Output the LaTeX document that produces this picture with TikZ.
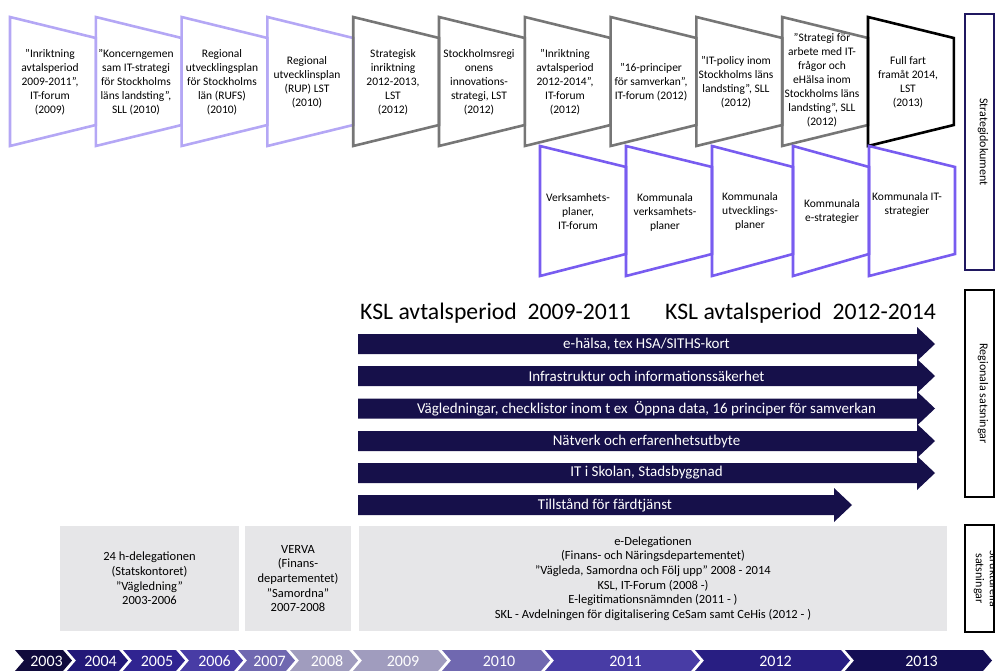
\documentclass[tikz,border=0pt]{standalone}
\usepackage{fontspec}
\setmainfont{Carlito}
\usepackage{xcolor}
\usepackage{tikz}
\usetikzlibrary{positioning,calc}

\definecolor{ljuslila}{RGB}{180,167,245}
\definecolor{gra}{RGB}{118,118,118}
\definecolor{lila}{RGB}{120,92,240}
\definecolor{marin}{RGB}{32,24,96}
\definecolor{stapelfarg}{RGB}{22,16,74}
\definecolor{ljusgra}{RGB}{230,230,232}
\definecolor{ar03}{RGB}{16,10,60}
\definecolor{ar04}{RGB}{34,24,120}
\definecolor{ar05}{RGB}{48,36,145}
\definecolor{ar06}{RGB}{72,60,165}
\definecolor{ar07}{RGB}{112,104,176}
\definecolor{ar08}{RGB}{160,156,190}
\definecolor{ar12}{RGB}{40,30,130}
\definecolor{ar13}{RGB}{20,14,84}

% pil for en regional satsning: namn, y, spets, text
\newcommand{\satsning}[4]{%
  \fill[stapelfarg] (358,#2-10) -- (#3-18,#2-10) -- (#3-18,#2-17) -- (#3,#2)
    -- (#3-18,#2+17) -- (#3-18,#2+10) -- (358,#2+10) -- cycle;
  \node[stapeltext] (#1) at ({(358+#3)/2},#2) {#4};}

% arspil i tidslinjen: namn, start, spets, farg, ar
\newcommand{\arspil}[5]{%
  \fill[#4] (#2,650) -- (#3-9,650) -- (#3,660.5) -- (#3-9,671) -- (#2,671)
    -- (#2+9,660.5) -- cycle;
  \node[artext] (#1) at ({(#2+#3)/2+3},661) {#5};}

\begin{document}
\begin{tikzpicture}[
    x=1pt, y=-1pt,
    every node/.style = {align=center, inner sep=0pt},
    dok/.style = {line width=2.6pt, line join=miter},
    doktext/.style = {font=\fontsize{11.5}{14}\selectfont},
    stapeltext/.style = {text=white, font=\fontsize{15}{17}\selectfont},
    ruta/.style = {fill=ljusgra, font=\fontsize{12.5}{14.6}\selectfont},
    etikett/.style = {draw, line width=1.6pt, minimum width=29},
    etikettext/.style = {rotate=-90, font=\fontsize{12}{14}\selectfont},
    artext/.style = {text=white, font=\fontsize{16}{18}\selectfont}
  ]
  \useasboundingbox (0,0) rectangle (995,671);

  % strategidokument, ovre raden
  \foreach \i/\f in {0/ljuslila,1/ljuslila,2/ljuslila,3/ljuslila,4/gra,5/gra,6/gra,7/gra,8/gra,9/gra,10/black}
    \draw[dok,\f] ({10+85.8*\i},17) -- ({95.8+85.8*\i},38) -- ({95.8+85.8*\i},125)
      -- ({10+85.8*\i},146) -- cycle;

  \node[doktext] (d1) at (50,82) {”Inriktning\\avtalsperiod\\2009-2011”,\\IT-forum\\(2009)};
  \node[doktext] (d2) at (136,82) {”Koncerngemen\\sam IT-strategi\\för Stockholms\\läns landsting”,\\SLL (2010)};
  \node[doktext] (d3) at (222,82) {Regional\\utvecklingsplan\\för Stockholms\\län (RUFS)\\(2010)};
  \node[doktext] (d4) at (307,82) {Regional\\utvecklinsplan\\(RUP) LST\\(2010)};
  \node[doktext] (d5) at (393,82) {Strategisk\\inriktning\\2012-2013,\\LST\\(2012)};
  \node[doktext] (d6) at (479,82) {Stockholmsregi\\onens\\innovations-\\strategi, LST\\(2012)};
  \node[doktext] (d7) at (565,82) {”Inriktning\\avtalsperiod\\2012-2014”,\\IT-forum\\(2012)};
  \node[doktext] (d8) at (651,82) {”16-principer\\för samverkan”,\\IT-forum (2012)};
  \node[doktext] (d9) at (736,82) {”IT-policy inom\\Stockholms läns\\landsting”, SLL\\(2012)};
  \node[doktext] (d10) at (822,80) {”Strategi för\\arbete med IT-\\frågor och\\eHälsa inom\\Stockholms läns\\landsting”, SLL\\(2012)};
  \node[doktext] (d11) at (908,82) {Full fart\\framåt 2014,\\LST\\(2013)};

  % kommunala dokument, andra raden
  \foreach \a/\b in {540/626,626/712,712/793,793/869,869/955}
    \draw[dok,lila] (\a,146) -- (\b,167) -- (\b,254) -- (\a,276) -- cycle;

  \node[doktext] (k1) at (578,212) {Verksamhets-\\planer,\\IT-forum};
  \node[doktext] (k2) at (665,212) {Kommunala\\verksamhets-\\planer};
  \node[doktext] (k3) at (750,211) {Kommunala\\utvecklings-\\planer};
  \node[doktext] (k4) at (832,211) {Kommunala\\e-strategier};
  \node[doktext] (k5) at (907,204) {Kommunala IT-\\strategier};

  % regionala satsningar
  \node[anchor=west, font=\fontsize{23.7}{26}\selectfont] (ksl1) at (360,313) {KSL avtalsperiod\ \ 2009-2011};
  \node[anchor=west, font=\fontsize{23.7}{26}\selectfont] (ksl2) at (665,313) {KSL avtalsperiod\ \ 2012-2014};

  \satsning{ehalsa}{344}{935}{e-hälsa, tex HSA/SITHS-kort}
  \satsning{infra}{376}{935}{Infrastruktur och informationssäkerhet}
  \satsning{vagl}{408.5}{935}{Vägledningar, checklistor inom t ex\ \ Öppna data, 16 principer för samverkan}
  \satsning{natverk}{441}{935}{Nätverk och erfarenhetsutbyte}
  \satsning{skolan}{473}{935}{IT i Skolan, Stadsbyggnad}
  \satsning{fardtj}{505}{852}{Tillstånd för färdtjänst}

  % strukturella satsningar
  \node[ruta, minimum width=179, minimum height=105] (del24) at (149.5,578.5)
    {24 h-delegationen\\(Statskontoret)\\”Vägledning”\\2003-2006};
  \node[ruta, minimum width=106, minimum height=105] (verva) at (298,578.5)
    {VERVA\\(Finans-\\departementet)\\”Samordna”\\2007-2008};
  \node[ruta, minimum width=588, minimum height=105] (edel) at (653,578.5)
    {e-Delegationen\\(Finans- och Näringsdepartementet)\\”Vägleda, Samordna och Följ upp” 2008 - 2014\\KSL, IT-Forum (2008 -)\\E-legitimationsnämnden (2011 - )\\SKL - Avdelningen för digitalisering CeSam samt CeHis (2012 - )};

  % etiketter till hoger
  \node[etikett, draw=marin, minimum height=256] (strategi) at (979.5,142) {};
  \node[etikettext] (strategitext) at (983,142) {Strategidokument};
  \node[etikett, minimum height=207] (regional) at (979.5,393.5) {};
  \node[etikettext] (regionaltext) at (983,393.5) {Regionala satsningar};
  \node[etikett, minimum height=107] (strukt) at (979.5,578.5) {};
  \node[etikettext] (strukttext) at (986,578.5) {Strukturella\\satsningar};

  % tidslinje
  \arspil{a03}{15}{72}{ar03}{2003}
  \arspil{a04}{67}{128}{ar04}{2004}
  \arspil{a05}{123}{185}{ar05}{2005}
  \arspil{a06}{180}{243}{ar06}{2006}
  \arspil{a07}{238}{295}{ar07}{2007}
  \arspil{a08}{290}{358}{ar08}{2008}
  \arspil{a09}{353}{447}{ar08}{2009}
  \arspil{a10}{442}{550}{ar07}{2010}
  \arspil{a11}{545}{700}{ar06}{2011}
  \arspil{a12}{695}{850}{ar12}{2012}
  \arspil{a13}{845}{992}{ar13}{2013}
\end{tikzpicture}
\end{document}
